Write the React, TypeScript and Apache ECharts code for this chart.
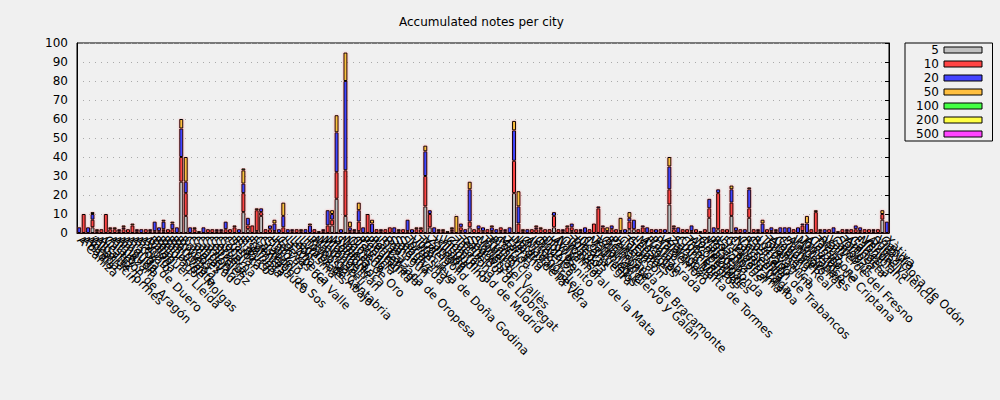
import React, { useEffect, useRef } from "react";
import * as echarts from "echarts";

const cities: string[] = [
  "A Cañiza", "Abadía", "Ágreda", "Albarracín", "Alba de Tormes", "Alcañiz", "Castejón de Aragón", "Alfaro", "Almazán", "Ampudia",
  "Anguita", "Aranda de Duero", "Arcos", "Arévalo", "Astorga", "Ayllón", "Balaguer, Lleida", "Béjar", "Belorado", "Baños de Molgas",
  "Benavente", "Bermillo", "Briviesca", "Burgos", "Cáceres", "Calatayud", "Candelario", "Carrión", "Castrojeriz", "Cebreros",
  "Cervera", "Cistierna", "Coca", "Cuéllar", "Daroca", "El Barco", "El Burgo", "Espinosa", "Frómista", "Fuentesaúco",
  "Castejón de Sos", "Grañón", "Guijuelo", "Haro", "Hervás", "Cuevas del Valle", "La Alberca", "Lerma", "León", "Ledesma",
  "Lumbrales", "Hoyos de Abajo", "Reinosa, Cantabria", "Madrigal", "Medinaceli", "Miranda", "Mombeltrán", "Monforte", "Salamanca", "Nájera",
  "Navas de Oro", "Olmedo", "Osorno", "Palencia", "Peñafiel", "Piedrahíta", "Ponferrada", "La Calzada de Oropesa", "Riaza", "Roa",
  "Sahagún", "Saldaña", "Sepúlveda", "Soria", "Tordesillas", "Villanueva de Doña Godina", "Toro", "Tudela", "Valladolid", "Zamora",
  "Villalón", "Villada", "Vitigudino", "Comunidad de Madrid", "Zuera", "Tarazona", "Teruel", "Sant Boi de Llobregat", "Segovia", "Sigüenza",
  "Mollet del Vallès", "Tábara", "Trujillo", "Plasencia", "Coria", "Mérida", "Zafra", "Llerena", "Madrid", "Jaraíz de la Vera",
  "Guadalupe", "Almendralejo", "Jerez", "Olivenza", "Badajoz", "Don Benito", "Hoyos", "Ávila", "Navalmoral de la Mata", "Oropesa",
  "Talavera", "Toledo", "Illescas", "Ocaña", "Consuegra", "Madridejos", "Tembleque", "Villar de Ciervo y Galán", "Quintanar", "Belmonte",
  "Peñaranda de Bracamonte", "Huete", "Cuenca", "Tarancón", "Getafe", "Leganés", "Móstoles", "Alcorcón", "Fuenlabrada", "Parla",
  "Pinto", "Valdemoro", "Aranjuez", "Zaragoza", "Santa Marta de Tormes", "Chinchón", "Colmenar", "Tres Cantos", "Alcobendas", "Torrelodones",
  "Galapagar", "Majadahonda", "Pozuelo", "Boadilla", "Las Rozas", "El Escorial", "Guadarrama", "Collado Villalba", "Navacerrada", "Cercedilla",
  "Rascafría", "Castrejón de Trabancos", "Buitrago", "Lozoya", "Torrelaguna", "Talamanca", "Algete", "Cobeña", "Ciudad Real", "Daimiel",
  "Almagro", "Valdepeñas", "Manzanares", "Tomelloso", "Alcázar", "Campo de Criptana", "Tarragona", "Reus", "Valls", "Valverde del Fresno",
  "Cambrils", "Salou", "Tortosa", "Amposta", "Gandesa", "Falset", "Montblanc", "Vendrell", "Alzira, Valencia", "Sueca",
  "Villaviciosa de Odón", "Gandia", "Xàtiva",
];

const notes5: number[] = [
  0, 0, 0, 3, 0, 0, 0, 0, 0, 0,
  0, 0, 0, 0, 0, 0, 0, 1, 0, 1,
  0, 0, 0, 27, 9, 0, 0, 0, 0, 0,
  0, 0, 0, 0, 0, 0, 0, 11, 2, 0,
  1, 9, 0, 0, 0, 0, 0, 0, 0, 0,
  0, 0, 0, 0, 0, 0, 0, 4, 18, 0,
  9, 0, 0, 1, 0, 0, 0, 0, 0, 0,
  0, 0, 0, 0, 1, 0, 0, 0, 14, 3,
  0, 0, 0, 0, 1, 0, 1, 0, 3, 0,
  0, 0, 0, 0, 0, 1, 0, 0, 21, 0,
  0, 0, 0, 0, 0, 0, 0, 3, 0, 0,
  0, 1, 0, 0, 0, 0, 0, 0, 0, 0,
  0, 0, 0, 0, 2, 2, 0, 0, 0, 0,
  0, 0, 0, 15, 0, 0, 0, 0, 1, 0,
  0, 0, 8, 0, 2, 0, 0, 9, 0, 0,
  0, 8, 0, 0, 0, 0, 0, 0, 0, 0,
  0, 0, 0, 1, 0, 0, 0, 0, 0, 0,
  0, 0, 0, 0, 0, 0, 0, 0, 0, 0,
  0, 7, 0,
];

const notes10: number[] = [
  0, 10, 0, 4, 1, 2, 10, 2, 2, 1,
  2, 2, 4, 1, 0, 2, 1, 0, 1, 1,
  2, 2, 0, 13, 12, 0, 2, 1, 0, 2,
  2, 1, 1, 2, 2, 3, 0, 10, 2, 4,
  11, 2, 2, 2, 1, 0, 3, 0, 1, 2,
  1, 0, 0, 2, 1, 1, 4, 3, 14, 0,
  24, 1, 1, 5, 0, 10, 0, 2, 1, 2,
  3, 0, 1, 2, 0, 0, 2, 2, 16, 7,
  0, 1, 1, 0, 1, 0, 2, 0, 3, 2,
  2, 1, 2, 1, 0, 2, 1, 0, 17, 5,
  1, 0, 2, 2, 2, 2, 2, 6, 2, 1,
  3, 2, 2, 1, 0, 2, 5, 13, 3, 1,
  2, 2, 0, 0, 4, 0, 2, 3, 0, 2,
  0, 2, 0, 8, 2, 0, 2, 2, 0, 2,
  1, 2, 5, 0, 19, 2, 2, 7, 1, 2,
  0, 5, 2, 1, 0, 2, 1, 1, 0, 0,
  0, 2, 0, 3, 0, 2, 11, 1, 0, 2,
  0, 1, 2, 1, 2, 2, 1, 2, 2, 1,
  2, 3, 0,
];

const notes20: number[] = [
  3, 0, 3, 3, 0, 0, 0, 0, 0, 1,
  1, 0, 0, 1, 2, 0, 1, 5, 2, 4,
  0, 3, 3, 15, 6, 3, 0, 0, 3, 0,
  0, 1, 1, 4, 0, 0, 2, 5, 4, 0,
  0, 2, 0, 2, 4, 2, 6, 2, 1, 0,
  0, 2, 4, 0, 0, 1, 8, 3, 21, 2,
  47, 2, 1, 6, 3, 0, 5, 0, 1, 0,
  0, 3, 0, 0, 6, 2, 0, 0, 13, 2,
  3, 0, 0, 0, 0, 0, 2, 2, 17, 0,
  2, 2, 0, 2, 2, 0, 1, 3, 16, 9,
  0, 2, 0, 1, 0, 0, 0, 2, 0, 1,
  0, 2, 0, 1, 3, 0, 0, 1, 1, 0,
  2, 0, 1, 2, 2, 5, 0, 1, 3, 0,
  2, 0, 2, 12, 1, 3, 0, 0, 3, 0,
  0, 0, 5, 3, 2, 0, 0, 7, 2, 0,
  2, 10, 0, 1, 5, 0, 2, 0, 3, 3,
  3, 0, 3, 1, 5, 0, 0, 0, 2, 0,
  3, 0, 0, 1, 0, 2, 2, 0, 0, 1,
  0, 0, 6,
];

const notes50: number[] = [
  0, 0, 0, 1, 1, 0, 0, 1, 1, 0,
  1, 0, 1, 0, 0, 0, 0, 0, 0, 1,
  0, 1, 0, 5, 13, 0, 1, 0, 0, 0,
  0, 0, 0, 0, 0, 1, 0, 7, 0, 0,
  1, 0, 0, 0, 2, 0, 7, 0, 0, 0,
  1, 0, 1, 0, 0, 0, 0, 2, 9, 0,
  15, 3, 0, 4, 0, 0, 2, 0, 0, 0,
  0, 0, 1, 0, 0, 0, 1, 1, 3, 0,
  0, 1, 1, 1, 0, 9, 0, 0, 4, 0,
  0, 0, 0, 1, 0, 0, 0, 0, 5, 8,
  1, 0, 0, 1, 1, 0, 0, 0, 0, 0,
  1, 0, 0, 0, 0, 0, 0, 0, 0, 2,
  0, 0, 7, 0, 3, 0, 0, 0, 0, 0,
  0, 0, 0, 5, 1, 0, 0, 0, 0, 0,
  0, 0, 0, 0, 0, 0, 0, 2, 0, 0,
  0, 1, 0, 0, 2, 0, 0, 1, 0, 0,
  0, 0, 0, 0, 4, 0, 1, 1, 0, 0,
  0, 0, 0, 0, 0, 0, 0, 0, 0, 0,
  0, 2, 0,
];

const notes100: number[] = cities.map((_, i) => (i === 37 || i === 84 ? 1 : 0));
const notes200: number[] = cities.map(() => 0);
const notes500: number[] = cities.map(() => 0);

const seriesNames = ["5", "10", "20", "50", "100", "200", "500"];
const seriesColors = ["#c0c0c0", "#ff4444", "#4444ff", "#ffbf40", "#44ff44", "#ffff44", "#ff44ff"];
const seriesValues = [notes5, notes10, notes20, notes50, notes100, notes200, notes500];

const FONT = "DejaVu Sans";

export default function App() {
  const ref = useRef<HTMLDivElement>(null);

  useEffect(() => {
    if (!ref.current) return;
    const chart = echarts.init(ref.current, undefined, { renderer: "svg" });
    const option: any = {
      animation: false,
      backgroundColor: "#f0f0f0",
      textStyle: { fontFamily: FONT },
      title: {
        text: "Accumulated notes per city",
        left: 399,
        top: 16,
        padding: 0,
        textStyle: { fontSize: 12, fontWeight: "normal", color: "#000", fontFamily: FONT },
      },
      grid: {
        left: 77,
        right: 111,
        top: 43,
        bottom: 167,
        show: true,
        borderColor: "#000",
        borderWidth: 1,
        backgroundColor: "transparent",
        containLabel: false,
        outerBoundsMode: "none",
      },
      legend: {
        orient: "vertical",
        left: 905,
        top: 43,
        align: "right",
        icon: "rect",
        itemWidth: 38,
        itemHeight: 6,
        itemGap: 2,
        padding: [1, 10, 1, 4],
        borderColor: "#000",
        borderWidth: 1,
        selectedMode: false,
        data: seriesNames,
        formatter: "{a|{name}}",
        itemStyle: { borderColor: "#000", borderWidth: 1 },
        textStyle: {
          rich: {
            a: { width: 30, align: "right", fontSize: 12, lineHeight: 14, fontFamily: FONT, color: "#000" },
          },
        },
      },
      xAxis: {
        type: "category",
        data: cities,
        boundaryGap: true,
        axisLine: { show: true, lineStyle: { color: "#000" } },
        axisTick: { show: false },
        axisLabel: {
          interval: 0,
          rotate: -45,
          margin: 5,
          fontSize: 12,
          color: "#000",
          fontFamily: FONT,
          hideOverlap: false,
        },
        splitLine: { show: false },
      },
      yAxis: [
        {
          type: "value",
          min: 0,
          max: 100,
          interval: 10,
          axisLine: { show: true, lineStyle: { color: "#000" } },
          axisTick: { show: false },
          axisLabel: { fontSize: 12, color: "#000", fontFamily: FONT, margin: 9 },
          splitLine: { show: true, lineStyle: { color: "#aaaaaa", type: [1, 5], width: 1 } },
        },
        {
          type: "value",
          position: "right",
          min: 0,
          max: 100,
          interval: 10,
          axisLine: { show: true, lineStyle: { color: "#000" } },
          axisTick: { show: true, inside: true, length: 4, lineStyle: { color: "#000" } },
          axisLabel: { show: false },
          splitLine: { show: false },
        },
      ],
      series: seriesNames.map((name, si) => ({
        name,
        type: "bar",
        stack: "notes",
        yAxisIndex: 0,
        barWidth: 4,
        itemStyle: {
          color: seriesColors[si],
          borderColor: "#000",
          borderWidth: 1,
          shadowBlur: 2,
          shadowColor: "rgba(255,90,90,0.45)",
        },
        emphasis: { disabled: true },
        data: seriesValues[si].map((v) => (v === 0 ? "-" : v)),
      })),
    };
    chart.setOption(option);
    return () => chart.dispose();
  }, []);

  return (
    <div
      ref={ref}
      style={{ position: "absolute", left: 0, top: 0, width: 1000, height: 400 }}
    />
  );
}
